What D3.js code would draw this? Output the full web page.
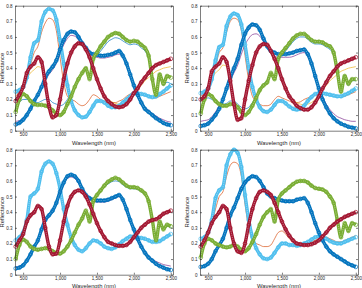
<!DOCTYPE html>
<html><head><meta charset="utf-8">
<script src="https://cdn.jsdelivr.net/npm/d3@7/dist/d3.min.js"></script>
<style>
body{margin:0;background:#fff}
svg{display:block}
text{font-family:"Liberation Sans",Arial,Helvetica,sans-serif;fill:#262626}
</style>
</head><body>
<svg id="chart" width="362" height="288"></svg>
<script>
// ---------- data ----------
const wavelengths = [400,450,500,550,600,650,700,750,800,850,900,950,1000,1050,1100,1150,1200,1250,1300,1350,1400,1450,1500,1550,1600,1650,1700,1750,1800,1850,1900,1950,2000,2050,2100,2150,2200,2250,2300,2350,2400,2450,2500];
const xTickValues = [500,1000,1500,2000,2500];
const yTickValues = [0,0.1,0.2,0.3,0.4,0.5,0.6,0.7,0.8];
const yTickLabels = ["0","0.1","0.2","0.3","0.4","0.5","0.6","0.7","0.8"];
const xLabel = "Wavelength (nm)";
const yLabel = "Reflectance";

// panel 1 – reference spectra (markers)
const p1LightBlue = [0.25,0.26,0.28,0.34,0.47,0.56,0.58,0.70,0.76,0.78,0.77,0.71,0.58,0.43,0.29,0.19,0.13,0.10,0.085,0.09,0.12,0.16,0.19,0.19,0.18,0.16,0.15,0.15,0.16,0.18,0.20,0.22,0.24,0.24,0.235,0.23,0.22,0.215,0.22,0.235,0.25,0.27,0.29];
const p1DarkBlue = [0.04,0.05,0.07,0.10,0.14,0.19,0.23,0.28,0.34,0.38,0.41,0.45,0.52,0.58,0.62,0.635,0.63,0.60,0.56,0.53,0.50,0.49,0.485,0.48,0.48,0.485,0.49,0.50,0.51,0.48,0.43,0.36,0.29,0.23,0.18,0.14,0.12,0.10,0.08,0.065,0.05,0.04,0.035];
const p1Green = [0.12,0.20,0.235,0.22,0.19,0.17,0.165,0.165,0.16,0.15,0.13,0.11,0.10,0.12,0.17,0.22,0.28,0.33,0.37,0.40,0.33,0.46,0.50,0.54,0.57,0.60,0.615,0.625,0.62,0.60,0.58,0.57,0.575,0.57,0.55,0.53,0.48,0.33,0.23,0.36,0.30,0.35,0.34];
const p1DarkRed = [0.19,0.23,0.28,0.37,0.41,0.43,0.47,0.44,0.30,0.16,0.085,0.10,0.20,0.33,0.43,0.50,0.54,0.56,0.555,0.52,0.47,0.40,0.33,0.27,0.22,0.19,0.17,0.155,0.15,0.155,0.17,0.20,0.24,0.27,0.31,0.34,0.37,0.40,0.42,0.43,0.44,0.45,0.46];
// panel 1 – estimated spectra (thin lines)
const p1Orange = [0.22,0.25,0.28,0.33,0.42,0.50,0.54,0.63,0.69,0.72,0.71,0.64,0.47,0.31,0.22,0.20,0.19,0.17,0.16,0.17,0.20,0.23,0.22,0.20,0.19,0.18,0.18,0.18,0.19,0.20,0.22,0.235,0.245,0.245,0.24,0.23,0.22,0.21,0.21,0.22,0.23,0.24,0.25];
const p1Yellow = [0.20,0.23,0.27,0.33,0.37,0.39,0.41,0.40,0.30,0.17,0.10,0.11,0.20,0.32,0.42,0.49,0.53,0.55,0.545,0.51,0.46,0.39,0.32,0.27,0.23,0.20,0.185,0.175,0.17,0.175,0.185,0.20,0.23,0.26,0.29,0.32,0.34,0.36,0.38,0.39,0.40,0.405,0.41];
const p1Purple = [0.06,0.065,0.08,0.11,0.15,0.19,0.22,0.27,0.32,0.36,0.39,0.43,0.49,0.55,0.59,0.61,0.605,0.58,0.54,0.51,0.49,0.475,0.47,0.465,0.465,0.47,0.475,0.485,0.49,0.47,0.42,0.36,0.29,0.235,0.19,0.15,0.13,0.11,0.095,0.08,0.07,0.06,0.055];
const p1Blue = [0.14,0.18,0.20,0.20,0.19,0.18,0.18,0.19,0.20,0.20,0.18,0.17,0.16,0.17,0.20,0.24,0.29,0.33,0.37,0.40,0.34,0.45,0.48,0.51,0.54,0.57,0.585,0.595,0.59,0.575,0.56,0.55,0.555,0.55,0.53,0.51,0.46,0.32,0.23,0.34,0.29,0.31,0.30];

// panel 2
const p2LightBlue = [0.24,0.25,0.27,0.33,0.45,0.535,0.55,0.67,0.73,0.75,0.74,0.68,0.55,0.40,0.28,0.20,0.15,0.125,0.12,0.135,0.165,0.19,0.19,0.175,0.155,0.14,0.135,0.14,0.16,0.19,0.215,0.235,0.24,0.24,0.235,0.23,0.225,0.22,0.22,0.23,0.24,0.255,0.27];
const p2DarkBlue = [0.03,0.035,0.045,0.07,0.10,0.14,0.20,0.27,0.34,0.40,0.46,0.55,0.62,0.66,0.68,0.675,0.645,0.59,0.54,0.51,0.50,0.49,0.49,0.49,0.495,0.50,0.51,0.515,0.52,0.49,0.43,0.35,0.27,0.20,0.15,0.11,0.08,0.06,0.045,0.035,0.025,0.02,0.015];
const p2Green = [0.11,0.20,0.235,0.22,0.19,0.17,0.16,0.16,0.17,0.17,0.15,0.12,0.10,0.12,0.16,0.21,0.26,0.29,0.31,0.37,0.33,0.46,0.50,0.53,0.56,0.59,0.61,0.62,0.62,0.60,0.58,0.57,0.57,0.565,0.55,0.54,0.50,0.38,0.25,0.35,0.30,0.33,0.33];
const p2DarkRed = [0.20,0.22,0.27,0.38,0.41,0.43,0.47,0.44,0.32,0.17,0.07,0.08,0.20,0.32,0.42,0.50,0.54,0.555,0.55,0.51,0.46,0.40,0.33,0.27,0.22,0.19,0.16,0.145,0.135,0.135,0.15,0.18,0.22,0.27,0.31,0.35,0.38,0.41,0.43,0.44,0.45,0.46,0.47];
const p2Orange = [0.22,0.24,0.27,0.32,0.41,0.50,0.53,0.63,0.70,0.72,0.71,0.64,0.48,0.32,0.22,0.19,0.17,0.16,0.16,0.17,0.20,0.22,0.21,0.20,0.19,0.18,0.18,0.185,0.20,0.21,0.22,0.235,0.245,0.245,0.24,0.23,0.22,0.215,0.215,0.22,0.23,0.24,0.25];
const p2Yellow = [0.19,0.22,0.26,0.33,0.37,0.39,0.42,0.41,0.31,0.17,0.08,0.09,0.20,0.32,0.42,0.49,0.53,0.545,0.54,0.50,0.45,0.39,0.32,0.27,0.23,0.20,0.18,0.17,0.165,0.17,0.18,0.20,0.23,0.26,0.29,0.32,0.34,0.36,0.38,0.39,0.40,0.405,0.41];
const p2Purple = [0.06,0.065,0.07,0.09,0.12,0.16,0.20,0.26,0.32,0.37,0.42,0.49,0.55,0.59,0.615,0.62,0.605,0.57,0.53,0.50,0.48,0.47,0.47,0.47,0.47,0.475,0.485,0.495,0.50,0.475,0.42,0.35,0.28,0.22,0.17,0.135,0.11,0.09,0.08,0.07,0.065,0.06,0.06];
const p2Blue = [0.13,0.19,0.21,0.20,0.185,0.175,0.17,0.175,0.19,0.19,0.17,0.15,0.14,0.15,0.18,0.22,0.27,0.30,0.32,0.37,0.34,0.45,0.48,0.51,0.54,0.57,0.59,0.60,0.60,0.585,0.565,0.555,0.555,0.55,0.535,0.52,0.48,0.36,0.24,0.34,0.29,0.32,0.32];

// panel 3
const p3LightBlue = [0.22,0.24,0.27,0.35,0.50,0.52,0.55,0.66,0.71,0.725,0.71,0.65,0.55,0.42,0.32,0.24,0.19,0.16,0.15,0.17,0.20,0.22,0.215,0.20,0.18,0.17,0.165,0.175,0.195,0.215,0.23,0.245,0.245,0.24,0.235,0.23,0.22,0.21,0.21,0.215,0.23,0.245,0.26];
const p3DarkBlue = [0.04,0.045,0.06,0.09,0.13,0.18,0.22,0.29,0.35,0.38,0.41,0.46,0.53,0.59,0.63,0.64,0.63,0.60,0.55,0.51,0.49,0.48,0.475,0.475,0.475,0.48,0.49,0.50,0.51,0.48,0.42,0.35,0.29,0.23,0.18,0.14,0.11,0.09,0.07,0.055,0.045,0.035,0.03];
const p3Green = [0.10,0.19,0.225,0.21,0.18,0.165,0.16,0.165,0.17,0.165,0.15,0.14,0.135,0.15,0.18,0.22,0.27,0.32,0.36,0.41,0.34,0.47,0.51,0.54,0.57,0.595,0.61,0.62,0.61,0.59,0.57,0.56,0.56,0.555,0.54,0.52,0.47,0.35,0.22,0.34,0.29,0.32,0.31];
const p3DarkRed = [0.18,0.22,0.26,0.34,0.38,0.40,0.44,0.42,0.30,0.18,0.13,0.135,0.22,0.34,0.44,0.50,0.53,0.54,0.53,0.50,0.45,0.39,0.33,0.28,0.24,0.21,0.20,0.19,0.185,0.185,0.19,0.21,0.24,0.27,0.30,0.32,0.34,0.35,0.355,0.37,0.39,0.40,0.41];
const p3Orange = [0.22,0.24,0.27,0.35,0.49,0.52,0.55,0.66,0.70,0.72,0.70,0.65,0.55,0.42,0.32,0.24,0.19,0.16,0.15,0.17,0.20,0.22,0.215,0.20,0.18,0.17,0.165,0.175,0.195,0.215,0.23,0.245,0.245,0.24,0.235,0.23,0.22,0.21,0.21,0.215,0.23,0.245,0.26];
const p3Yellow = [0.18,0.22,0.26,0.34,0.38,0.40,0.44,0.42,0.30,0.18,0.13,0.135,0.22,0.34,0.44,0.50,0.53,0.54,0.53,0.50,0.45,0.39,0.33,0.28,0.24,0.21,0.20,0.19,0.185,0.185,0.19,0.21,0.24,0.27,0.30,0.32,0.34,0.35,0.355,0.37,0.39,0.40,0.41];
const p3Purple = [0.05,0.055,0.07,0.095,0.135,0.18,0.22,0.28,0.34,0.37,0.40,0.45,0.52,0.58,0.615,0.625,0.615,0.585,0.54,0.50,0.48,0.47,0.465,0.465,0.465,0.47,0.48,0.49,0.50,0.47,0.42,0.35,0.29,0.235,0.185,0.15,0.12,0.10,0.085,0.075,0.065,0.06,0.055];
const p3Blue = [0.10,0.19,0.22,0.21,0.18,0.165,0.16,0.165,0.17,0.165,0.15,0.14,0.135,0.15,0.18,0.22,0.27,0.32,0.36,0.40,0.34,0.46,0.50,0.53,0.56,0.58,0.595,0.60,0.595,0.575,0.56,0.55,0.55,0.545,0.53,0.51,0.46,0.34,0.22,0.33,0.29,0.31,0.30];

// panel 4
const p4LightBlue = [0.23,0.24,0.27,0.35,0.49,0.54,0.56,0.70,0.77,0.80,0.78,0.69,0.51,0.35,0.24,0.17,0.13,0.105,0.10,0.11,0.14,0.175,0.20,0.20,0.19,0.19,0.185,0.19,0.20,0.21,0.225,0.24,0.245,0.24,0.23,0.215,0.205,0.20,0.20,0.21,0.22,0.23,0.24];
const p4DarkBlue = [0.05,0.055,0.07,0.10,0.15,0.19,0.23,0.30,0.38,0.43,0.49,0.55,0.59,0.615,0.63,0.625,0.60,0.56,0.52,0.50,0.49,0.48,0.475,0.47,0.47,0.47,0.48,0.485,0.49,0.46,0.40,0.33,0.27,0.22,0.18,0.15,0.13,0.115,0.10,0.085,0.07,0.06,0.05];
const p4Green = [0.11,0.20,0.23,0.22,0.20,0.19,0.18,0.175,0.18,0.19,0.18,0.16,0.15,0.17,0.21,0.26,0.32,0.37,0.40,0.42,0.34,0.48,0.52,0.54,0.56,0.58,0.595,0.60,0.60,0.59,0.57,0.555,0.55,0.545,0.53,0.50,0.46,0.35,0.24,0.33,0.28,0.33,0.32];
const p4DarkRed = [0.18,0.22,0.27,0.33,0.37,0.40,0.44,0.42,0.30,0.20,0.15,0.14,0.20,0.32,0.42,0.49,0.53,0.54,0.53,0.51,0.46,0.40,0.34,0.29,0.25,0.22,0.20,0.195,0.19,0.19,0.195,0.205,0.22,0.245,0.27,0.30,0.32,0.34,0.355,0.37,0.38,0.39,0.40];
const p4Orange = [0.22,0.24,0.27,0.33,0.42,0.50,0.53,0.63,0.70,0.72,0.71,0.63,0.45,0.30,0.22,0.20,0.19,0.18,0.18,0.19,0.23,0.27,0.28,0.26,0.23,0.21,0.20,0.20,0.20,0.20,0.21,0.22,0.23,0.24,0.24,0.23,0.22,0.21,0.21,0.22,0.23,0.24,0.25];
const p4Yellow = [0.18,0.22,0.27,0.33,0.37,0.40,0.43,0.41,0.30,0.19,0.14,0.135,0.20,0.32,0.42,0.49,0.53,0.54,0.53,0.51,0.46,0.40,0.34,0.29,0.25,0.22,0.20,0.195,0.19,0.19,0.195,0.205,0.22,0.245,0.27,0.30,0.32,0.34,0.355,0.37,0.38,0.39,0.40];
const p4Purple = [0.05,0.055,0.07,0.10,0.15,0.19,0.23,0.30,0.38,0.43,0.49,0.55,0.59,0.615,0.63,0.625,0.60,0.56,0.52,0.50,0.49,0.48,0.475,0.47,0.47,0.47,0.48,0.485,0.49,0.46,0.40,0.33,0.27,0.22,0.18,0.15,0.13,0.115,0.10,0.085,0.07,0.06,0.05];
const p4Blue = [0.11,0.20,0.23,0.22,0.20,0.19,0.18,0.175,0.18,0.19,0.18,0.16,0.15,0.17,0.21,0.26,0.32,0.37,0.40,0.42,0.34,0.48,0.52,0.54,0.56,0.58,0.595,0.60,0.60,0.59,0.57,0.555,0.55,0.545,0.53,0.50,0.46,0.35,0.24,0.33,0.28,0.33,0.32];

const markerColors = ["#4DBEEE","#0072BD","#77AC30","#A2142F"];
const lineColors = ["#D95319","#EDB120","#7E2F8E","#0072BD"];

const panels = [
  {ref:[p1LightBlue,p1DarkBlue,p1Green,p1DarkRed], est:[p1Orange,p1Yellow,p1Purple,p1Blue]},
  {ref:[p2LightBlue,p2DarkBlue,p2Green,p2DarkRed], est:[p2Orange,p2Yellow,p2Purple,p2Blue]},
  {ref:[p3LightBlue,p3DarkBlue,p3Green,p3DarkRed], est:[p3Orange,p3Yellow,p3Purple,p3Blue]},
  {ref:[p4LightBlue,p4DarkBlue,p4Green,p4DarkRed], est:[p4Orange,p4Yellow,p4Purple,p4Blue]}
];

// ---------- layout ----------
const origins = [[15,5.7],[200,5.7],[15,149.7],[200,149.7]];
const W = 158, H = 125;
const svg = d3.select("#chart");

const x = d3.scaleLinear().domain([390,2530]).range([0,W]);
const y = d3.scaleLinear().domain([0,0.8]).range([H,0]);
const line = d3.line().x(d=>x(d[0])).y(d=>y(d[1])).curve(d3.curveMonotoneX);

panels.forEach((p,pi)=>{
  const g = svg.append("g").attr("transform",`translate(${origins[pi][0]},${origins[pi][1]})`);

  // estimated spectra (thin lines)
  p.est.forEach((vals,i)=>{
    const pts = wavelengths.map((w,k)=>[w,vals[k]]);
    g.append("path").attr("d",line(pts)).attr("fill","none")
      .attr("stroke",lineColors[i]).attr("stroke-width",0.7);
  });
  // reference spectra (dense hollow circle markers)
  p.ref.forEach((vals,i)=>{
    const pts = wavelengths.map((w,k)=>[w,vals[k]]);
    g.append("path").attr("d",line(pts)).attr("fill","none")
      .attr("stroke",markerColors[i]).attr("stroke-width",3.4).attr("stroke-linejoin","round");
    g.append("path").attr("d",line(pts)).attr("fill","none")
      .attr("stroke","#fff").attr("stroke-opacity",0.35).attr("stroke-width",1.1)
      .attr("stroke-dasharray","1.2 0.9");
    g.selectAll(null).data(pts).enter().append("circle")
      .attr("cx",d=>x(d[0])).attr("cy",d=>y(d[1])).attr("r",1.9)
      .attr("fill","none").attr("stroke",markerColors[i]).attr("stroke-width",0.7);
  });

  // axes (MATLAB box style, ticks inside)
  const ax = g.append("g").attr("transform",`translate(0,${H})`)
    .call(d3.axisBottom(x).tickValues(xTickValues).tickSize(-2).tickSizeOuter(0).tickPadding(2.6));
  const ay = g.append("g")
    .call(d3.axisLeft(y).tickValues(yTickValues).tickFormat((d,i)=>yTickLabels[i]).tickSize(-2).tickSizeOuter(0).tickPadding(2.6));
  const at = g.append("g")
    .call(d3.axisTop(x).tickValues(xTickValues).tickSize(-2).tickSizeOuter(0).tickFormat(""));
  const ar = g.append("g").attr("transform",`translate(${W},0)`)
    .call(d3.axisRight(y).tickValues(yTickValues).tickSize(-2).tickSizeOuter(0).tickFormat(""));
  [ax,ay,at,ar].forEach(a=>{
    a.selectAll("path.domain").attr("stroke","#262626").attr("stroke-width",0.6);
    a.selectAll(".tick line").attr("stroke","#262626").attr("stroke-width",0.6);
    a.selectAll("text").attr("font-size",4.5).attr("fill","#262626").attr("font-family","Liberation Sans, Arial, sans-serif");
  });

  const labelY = pi < 2 ? H + 14.6 : H + 13;
  g.append("text").attr("x",W/2).attr("y",labelY).attr("text-anchor","middle")
    .attr("font-size",5.8).text(xLabel);
  g.append("text").attr("transform",`translate(${-10.6},${H/2}) rotate(-90)`)
    .attr("text-anchor","middle").attr("font-size",5.8).text(yLabel);
});
</script>
</body></html>
